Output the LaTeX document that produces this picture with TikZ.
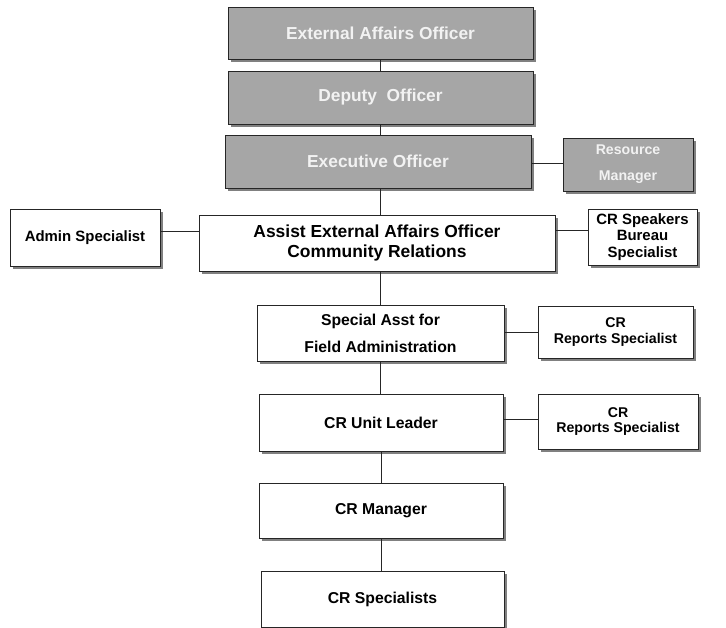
\documentclass[tikz,border=0pt]{standalone}
\usepackage{fontspec}
\setmainfont{Liberation Sans}
\usepackage{tikz}
\usetikzlibrary{shadows}

\begin{document}
\begin{tikzpicture}[x=1bp, y=-1bp,
    unit/.style={draw=black!85, line width=0.9bp, align=center, inner sep=0pt,
        drop shadow={shadow xshift=3bp, shadow yshift=-3bp, fill=black!50, opacity=1}},
    grayunit/.style={unit, fill=officegray, text=white!95!black},
    whiteunit/.style={unit, fill=white, text=black},
    link/.style={draw=black!85, line width=0.9bp}]
    % Define colors
    \definecolor{officegray}{RGB}{166,166,166}

    % Page frame
    \useasboundingbox (0,0) rectangle (726,628);

    % Command chain (gray)
    \node[grayunit, minimum width=305bp, minimum height=52bp, font=\fontsize{17.4}{21}\selectfont\bfseries] (eao) at (380.5,33) {External Affairs Officer};
    \node[grayunit, minimum width=305bp, minimum height=53bp, font=\fontsize{17.4}{21}\selectfont\bfseries] (deputy) at (380.5,97.5) {Deputy\ \ Officer};
    \node[grayunit, minimum width=306bp, minimum height=53bp, font=\fontsize{17.4}{21}\selectfont\bfseries] (exec) at (378,161.5) {Executive Officer};
    \node[grayunit, minimum width=130bp, minimum height=53bp, font=\fontsize{14.2}{17}\selectfont\bfseries] (resmgr) at (628,164.5) {Resource\\[9bp]Manager};

    % Community relations level
    \node[whiteunit, minimum width=150bp, minimum height=57bp, font=\fontsize{15}{18}\selectfont\bfseries] (admin) at (85,237.5) {Admin Specialist};
    \node[whiteunit, minimum width=356bp, minimum height=56bp, font=\fontsize{17.5}{21}\selectfont\bfseries] (assist) at (377,243) {Assist External Affairs Officer\\Community Relations};
    \node[whiteunit, minimum width=109bp, minimum height=56bp, font=\fontsize{15}{16.7}\selectfont\bfseries] (speakers) at (642.5,237) {CR Speakers\\Bureau\\Specialist};

    % Field units
    \node[whiteunit, minimum width=247bp, minimum height=56bp, font=\fontsize{15.8}{19}\selectfont\bfseries] (special) at (380.5,333) {Special Asst for\\[8bp]Field Administration};
    \node[whiteunit, minimum width=155bp, minimum height=52bp, font=\fontsize{14.2}{16}\selectfont\bfseries] (reportsA) at (615.5,332) {CR\\Reports Specialist};
    \node[whiteunit, minimum width=244bp, minimum height=57bp, font=\fontsize{15.8}{19}\selectfont\bfseries] (unitlead) at (381,422.5) {CR Unit Leader};
    \node[whiteunit, minimum width=160bp, minimum height=55bp, font=\fontsize{14.2}{16}\selectfont\bfseries] (reportsB) at (618,421.5) {CR\\Reports Specialist};
    \node[whiteunit, minimum width=244bp, minimum height=55bp, font=\fontsize{15.8}{19}\selectfont\bfseries] (crmgr) at (381,510.5) {CR Manager};
    \node[whiteunit, minimum width=243bp, minimum height=56bp, font=\fontsize{15.8}{19}\selectfont\bfseries] (crspec) at (382.5,599) {CR Specialists};

    % Vertical links
    \draw[link] (eao.south) -- (eao.south |- deputy.north);
    \draw[link] (deputy.south) -- (deputy.south |- exec.north);
    \draw[link] (exec.south -| deputy.south) -- (deputy.south |- assist.north);
    \draw[link] (assist.south -| special.north) -- (special.north);
    \draw[link] (special.south) -- (special.south |- unitlead.north);
    \draw[link] (unitlead.south) -- (unitlead.south |- crmgr.north);
    \draw[link] (crmgr.south) -- (crmgr.south |- crspec.north);

    % Side links
    \draw[link] ([yshift=-1.5bp]exec.east) -- ([yshift=-1.5bp]exec.east -| resmgr.west);
    \draw[link] ([yshift=6.5bp]admin.east) -- ([yshift=6.5bp]admin.east -| assist.west);
    \draw[link] ([yshift=7bp]speakers.west -| assist.east) -- ([yshift=7bp]speakers.west);
    \draw[link] (reportsA.west -| special.east) -- (reportsA.west);
    \draw[link] ([yshift=2.5bp]reportsB.west -| unitlead.east) -- ([yshift=2.5bp]reportsB.west);
\end{tikzpicture}
\end{document}
